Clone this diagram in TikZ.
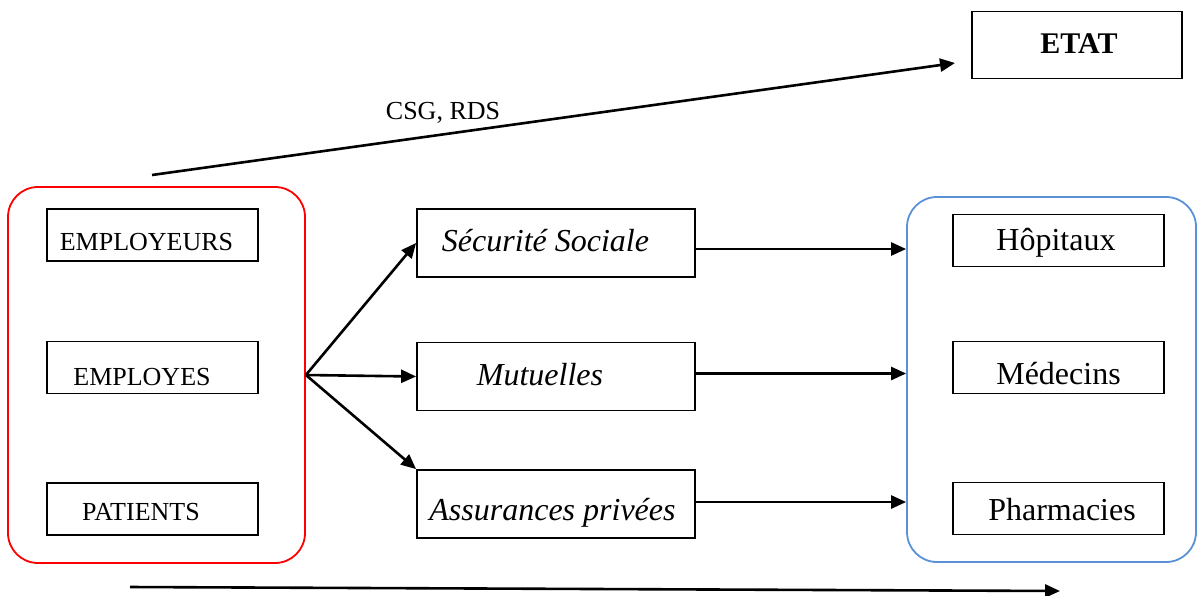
\documentclass[tikz,border=0pt]{standalone}
\usepackage{fontspec}
\setmainfont{Liberation Serif}
\usetikzlibrary{arrows.meta}

\def\boxLine{0.9pt}
\def\flowLine{1.3pt}

\tikzset{
    payeur/.style = {draw, line width=\boxLine, inner sep=0pt,
        minimum width=105.5pt, minimum height=26pt,
        font=\fontsize{13}{15}\selectfont},
    caisse/.style = {draw, line width=\boxLine, inner sep=0pt,
        minimum width=139pt, minimum height=34pt,
        font=\fontsize{16}{19}\selectfont\itshape},
    soin/.style = {draw, line width=\boxLine, inner sep=0pt,
        minimum width=105.5pt, minimum height=26pt,
        font=\fontsize{16}{19}\selectfont},
    groupe/.style = {draw, line width=\boxLine, rounded corners=15pt,
        inner sep=0pt},
    %% text placement inside a box
    haut/.style = {text height=#1, text depth=0pt},
    decale/.style = {execute at begin node={\hspace*{#1}}},
    flux/.style = {line width=\flowLine, -{Triangle[length=7.5pt,width=6.5pt]}}
}

\begin{document}
\begin{tikzpicture}[x=0.5pt, y=-0.5pt]
    \useasboundingbox (0,0) rectangle (1197,595);

    %% groups
    \node [groupe, draw=red, minimum width=148.5pt, minimum height=188pt]
        (payeurs) at (156.5,375) {};
    \node [groupe, draw={rgb,255:red,91;green,145;blue,214},
        minimum width=144.5pt, minimum height=182.5pt]
        (soins) at (1051.5,379.5) {};

    %% who pays
    \node [payeur, haut=15pt, decale=-6pt] (employeurs) at (152.5,235) {EMPLOYEURS};
    \node [payeur, haut=17.5pt, decale=-10.5pt] (employes) at (152.5,367.5) {EMPLOYES};
    \node [payeur, haut=11pt, decale=-11.5pt] (patients) at (152.5,509) {PATIENTS};

    %% funds
    \node [caisse, haut=8pt, decale=-10.5pt] (secu) at (556,243) {Sécurité Sociale};
    \node [caisse, haut=8.5pt, decale=-16pt] (mutuelles) at (556,376.5) {Mutuelles};
    \node [caisse, haut=16pt, decale=-3.5pt] (assurances) at (556,504) {Assurances privées};

    %% care
    \node [soin, haut=9.5pt, decale=-2.5pt] (hopitaux) at (1058.5,240.5) {Hôpitaux};
    \node [soin, haut=16.5pt] (medecins) at (1058.5,367.5) {Médecins};
    \node [soin, haut=11.5pt, decale=3.5pt] (pharmacies) at (1058.5,508.5) {Pharmacies};

    %% state
    \node [draw, line width=\boxLine, inner sep=0pt,
        minimum width=105pt, minimum height=33.5pt, haut=8pt, decale=2pt,
        font=\fontsize{15}{18}\selectfont\bfseries]
        (etat) at (1077,45) {ETAT};

    %% arrows
    \draw [flux] (payeurs.east) -- (secu.west);
    \draw [flux] (payeurs.east) -- (mutuelles.west);
    \draw [flux] (payeurs.east) -- (assurances.north west);

    \draw [flux] ([yshift=-3pt]secu.east) -- ([yshift=-3pt]secu.east -| soins.west);
    \draw [flux] ([yshift=1.5pt]mutuelles.east) -- ([yshift=1.5pt]mutuelles.east -| soins.west);
    \draw [flux] ([yshift=1pt]assurances.east) -- ([yshift=1pt]assurances.east -| soins.west);

    \coordinate (csgstart) at (152,175);
    \coordinate (csgend) at (955,63);
    \draw [flux] (csgstart) -- (csgend);
    \node [font=\fontsize{13}{15}\selectfont] (csg) at (443,113) {CSG, RDS};

    \coordinate (basestart) at (130,587);
    \coordinate (baseend) at (1060,591);
    \draw [flux] (basestart) -- (baseend);
\end{tikzpicture}
\end{document}
